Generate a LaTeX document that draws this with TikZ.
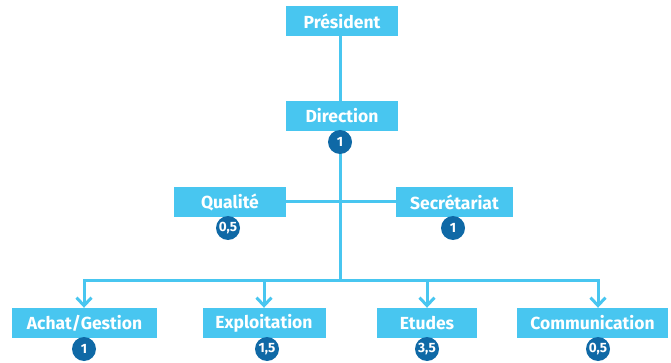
\documentclass[tikz,border=0pt]{standalone}
\usepackage{fontspec}
\setmainfont{Fira Sans}
\usetikzlibrary{arrows.meta}
\definecolor{boxblue}{HTML}{48C6F0}
\definecolor{badgeblue}{HTML}{0F69A6}
\tikzset{
  unitbox/.style={fill=boxblue, text=white, font=\bfseries\fontsize{17.5}{19}\selectfont, minimum height=30pt, inner sep=0pt, anchor=center},
  badge/.style={circle, fill=badgeblue, text=white, font=\bfseries\fontsize{13.5}{14}\selectfont, minimum size=24pt, inner sep=0pt},
  link/.style={draw=boxblue, line width=3pt},
  arr/.style={link, -{Straight Barb[length=8pt, width=15pt, line width=3pt]}}
}
\begin{document}
\begin{tikzpicture}[x=1pt, y=-1pt]
\useasboundingbox (0,0) rectangle (671,363);
% boxes
\node[unitbox, minimum width=112pt] (pres) at (342,21) {Président};
\node[unitbox, minimum width=112pt] (dir) at (342,116) {Direction};
\node[unitbox, minimum width=112pt] (qual) at (230,202) {Qualité};
\node[unitbox, minimum width=117pt] (secr) at (454.5,202) {Secrétariat};
\node[unitbox, minimum width=145pt] (achat) at (84.5,323) {Achat/Gestion};
\node[unitbox, minimum width=123pt] (expl) at (264,323) {Exploitation};
\node[unitbox, minimum width=100pt] (etud) at (427,323) {Etudes};
\node[unitbox, minimum width=151pt] (comm) at (592.5,323) {Communication};
% connector geometry
\coordinate (bus) at (340,280);
\coordinate (busL) at (84,280);
\coordinate (busR) at (598,280);
% links
\draw[link] (pres.south -| bus) -- (dir.north -| bus);
\draw[link] (dir.south -| bus) -- (bus);
\draw[link] (qual.east) -- (secr.west);
\draw[link, line cap=rect] (busL) -- (busR);
\draw[arr] (busL) -- (achat.north -| busL);
\draw[arr] (expl.north |- bus) -- (expl.north);
\draw[arr] (etud.north |- bus) -- (etud.north);
\draw[arr] (busR) -- (comm.north -| busR);
% badges
\node[badge] (b1) at (340,142) {1};
\node[badge] (b2) at (228,228) {0,5};
\node[badge] (b3) at (453,228) {1};
\node[badge] (b4) at (84,349) {1};
\node[badge] (b5) at (267,349) {1,5};
\node[badge] (b6) at (427,349) {3,5};
\node[badge] (b7) at (598,349) {0,5};
\end{tikzpicture}
\end{document}
